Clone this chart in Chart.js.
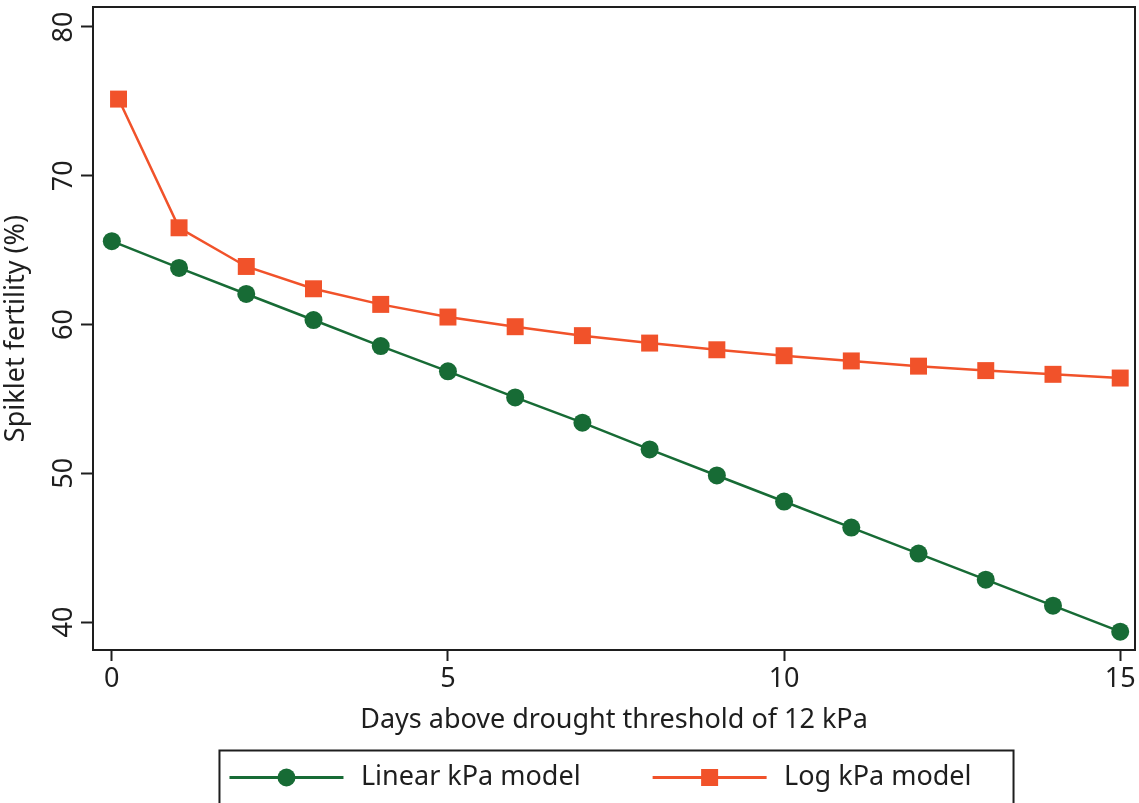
<!DOCTYPE html>
<html>
<head>
<meta charset="utf-8">
<script src="https://cdn.jsdelivr.net/npm/chart.js@4/dist/chart.umd.min.js"></script>
<style>
  html, body { margin: 0; padding: 0; background: #fff; }
  #wrap { width: 1139px; height: 803px; }
</style>
</head>
<body>
<div id="wrap"><canvas id="c"></canvas></div>
<script>
// values
const linearX = [0, 1, 2, 3, 4, 5, 6, 7, 8, 9, 10, 11, 12, 13, 14, 15];
const linearY = [65.6, 63.8, 62.05, 60.3, 58.55, 56.85, 55.1, 53.4, 51.6, 49.85, 48.1, 46.35, 44.6, 42.85, 41.1, 39.35];
const logX = [0.1, 1, 2, 3, 4, 5, 6, 7, 8, 9, 10, 11, 12, 13, 14, 15];
const logY = [75.15, 66.5, 63.9, 62.4, 61.35, 60.5, 59.85, 59.25, 58.75, 58.3, 57.9, 57.55, 57.2, 56.9, 56.65, 56.4];
const xTicks = [0, 5, 10, 15];
const yTicks = [40, 50, 60, 70, 80];
const seriesNames = ["Linear kPa model", "Log kPa model"];
const xTitle = "Days above drought threshold of 12 kPa";
const yTitle = "Spiklet fertility (%)";

const GREEN = "#176b35";
const ORANGE = "#f1522a";
const INK = "#1e1e1e";
const FONT = "'Noto Sans', 'Open Sans', sans-serif";

// legend key: gap before the key, then the line itself
const KEY_GAP = 66;
const KEY_LINE = 114;

function toPoints(xs, ys){
    let pts = [];
    for (let i = 0; i < xs.length; i++){
        pts.push({x: xs[i], y: ys[i]});
    }
    return pts;
}

// frame round the plot, rotated y tick labels, legend keys and box
const decor = {
    id: "decor",
    afterDraw(chart){
        const ctx = chart.ctx;
        const a = chart.chartArea;
        ctx.save();
        ctx.strokeStyle = INK;
        ctx.lineWidth = 2;
        ctx.strokeRect(a.left, a.top, a.right - a.left, a.bottom - a.top);

        // y tick labels, turned like the original
        const ys = chart.scales.y;
        ctx.fillStyle = INK;
        ctx.font = "27px " + FONT;
        ctx.textAlign = "center";
        ctx.textBaseline = "middle";
        ys.ticks.forEach(t => {
            const py = ys.getPixelForValue(t.value);
            ctx.save();
            ctx.translate(64, py);
            ctx.rotate(-Math.PI / 2);
            ctx.fillText(String(t.value), 0, 0);
            ctx.restore();
        });

        // legend keys: line with the marker in its middle
        const lg = chart.legend;
        const fs = lg.options.labels.font.size;
        let minL = Infinity, maxR = -Infinity, cy = 0;
        lg.legendHitBoxes.forEach((hb, i) => {
            const ds = chart.data.datasets[i];
            const x0 = hb.left + KEY_GAP;
            const cx = x0 + KEY_LINE / 2;
            cy = hb.top + fs / 2;
            ctx.strokeStyle = ds.borderColor;
            ctx.lineWidth = 3;
            ctx.beginPath();
            ctx.moveTo(x0, cy);
            ctx.lineTo(x0 + KEY_LINE, cy);
            ctx.stroke();
            ctx.fillStyle = ds.borderColor;
            if (ds.pointStyle === "rect") {
                ctx.fillRect(cx - 8.5, cy - 8.5, 17, 17);
            } else {
                ctx.beginPath();
                ctx.arc(cx, cy, 9, 0, Math.PI * 2);
                ctx.fill();
            }
            minL = Math.min(minL, x0);
            maxR = Math.max(maxR, hb.left + hb.width);
        });
        ctx.strokeStyle = INK;
        ctx.lineWidth = 2;
        const top = cy - 27;
        ctx.strokeRect(minL - 10, top, maxR - minL + 52, chart.height - top + 10);
        ctx.restore();
    }
};

const ctx = document.getElementById("c");
const chart = new Chart(ctx, {
    type: "line",
    data: {
        datasets: [
            {
                label: seriesNames[0],
                data: toPoints(linearX, linearY),
                borderColor: GREEN,
                backgroundColor: GREEN,
                borderWidth: 2.5,
                pointStyle: "circle",
                pointRadius: 9,
                pointHoverRadius: 9,
                pointBorderWidth: 0,
                tension: 0
            },
            {
                label: seriesNames[1],
                data: toPoints(logX, logY),
                borderColor: ORANGE,
                backgroundColor: ORANGE,
                borderWidth: 2.5,
                pointStyle: "rect",
                pointRadius: 12,
                pointHoverRadius: 12,
                pointBorderWidth: 0,
                tension: 0
            }
        ]
    },
    options: {
        responsive: true,
        maintainAspectRatio: false,
        animation: false,
        layout: { autoPadding: false, padding: { top: 7, right: 4, left: 0, bottom: 2 } },
        plugins: {
            tooltip: { enabled: false },
            legend: {
                position: "bottom",
                labels: {
                    boxWidth: KEY_GAP + KEY_LINE + 4,
                    boxHeight: 0,
                    padding: 6,
                    color: INK,
                    font: { family: FONT, size: 27 },
                    generateLabels: c => c.data.datasets.map((ds, i) => ({
                        text: ds.label,
                        fillStyle: "rgba(0,0,0,0)",
                        strokeStyle: "rgba(0,0,0,0)",
                        lineWidth: 0,
                        fontColor: INK,
                        datasetIndex: i,
                        hidden: false
                    }))
                }
            }
        },
        scales: {
            x: {
                type: "linear",
                min: -0.28,
                max: 15.22,
                afterBuildTicks: s => { s.ticks = xTicks.map(v => ({ value: v })); },
                afterFit: s => { s.height = 108; s.paddingLeft = 0; s.paddingRight = 0; },
                grid: { drawOnChartArea: false, drawTicks: true, tickLength: 11, tickWidth: 2, color: INK },
                border: { display: false },
                ticks: { color: INK, font: { family: FONT, size: 27 }, padding: 2, maxRotation: 0 },
                title: { display: true, text: xTitle, color: INK, font: { family: FONT, size: 27 }, padding: { top: 0, bottom: 21 } }
            },
            y: {
                type: "linear",
                min: 38.12,
                max: 81.34,
                afterBuildTicks: s => { s.ticks = yTicks.map(v => ({ value: v })); },
                afterFit: s => { s.width = 93; s.paddingTop = 0; s.paddingBottom = 0; },
                grid: { drawOnChartArea: false, drawTicks: true, tickLength: 12, tickWidth: 2, color: INK },
                border: { display: false },
                ticks: { display: false },
                title: { display: true, text: yTitle, color: INK, font: { family: FONT, size: 27 }, padding: { top: 0, bottom: 0 } }
            }
        }
    },
    plugins: [decor]
});
</script>
</body>
</html>
